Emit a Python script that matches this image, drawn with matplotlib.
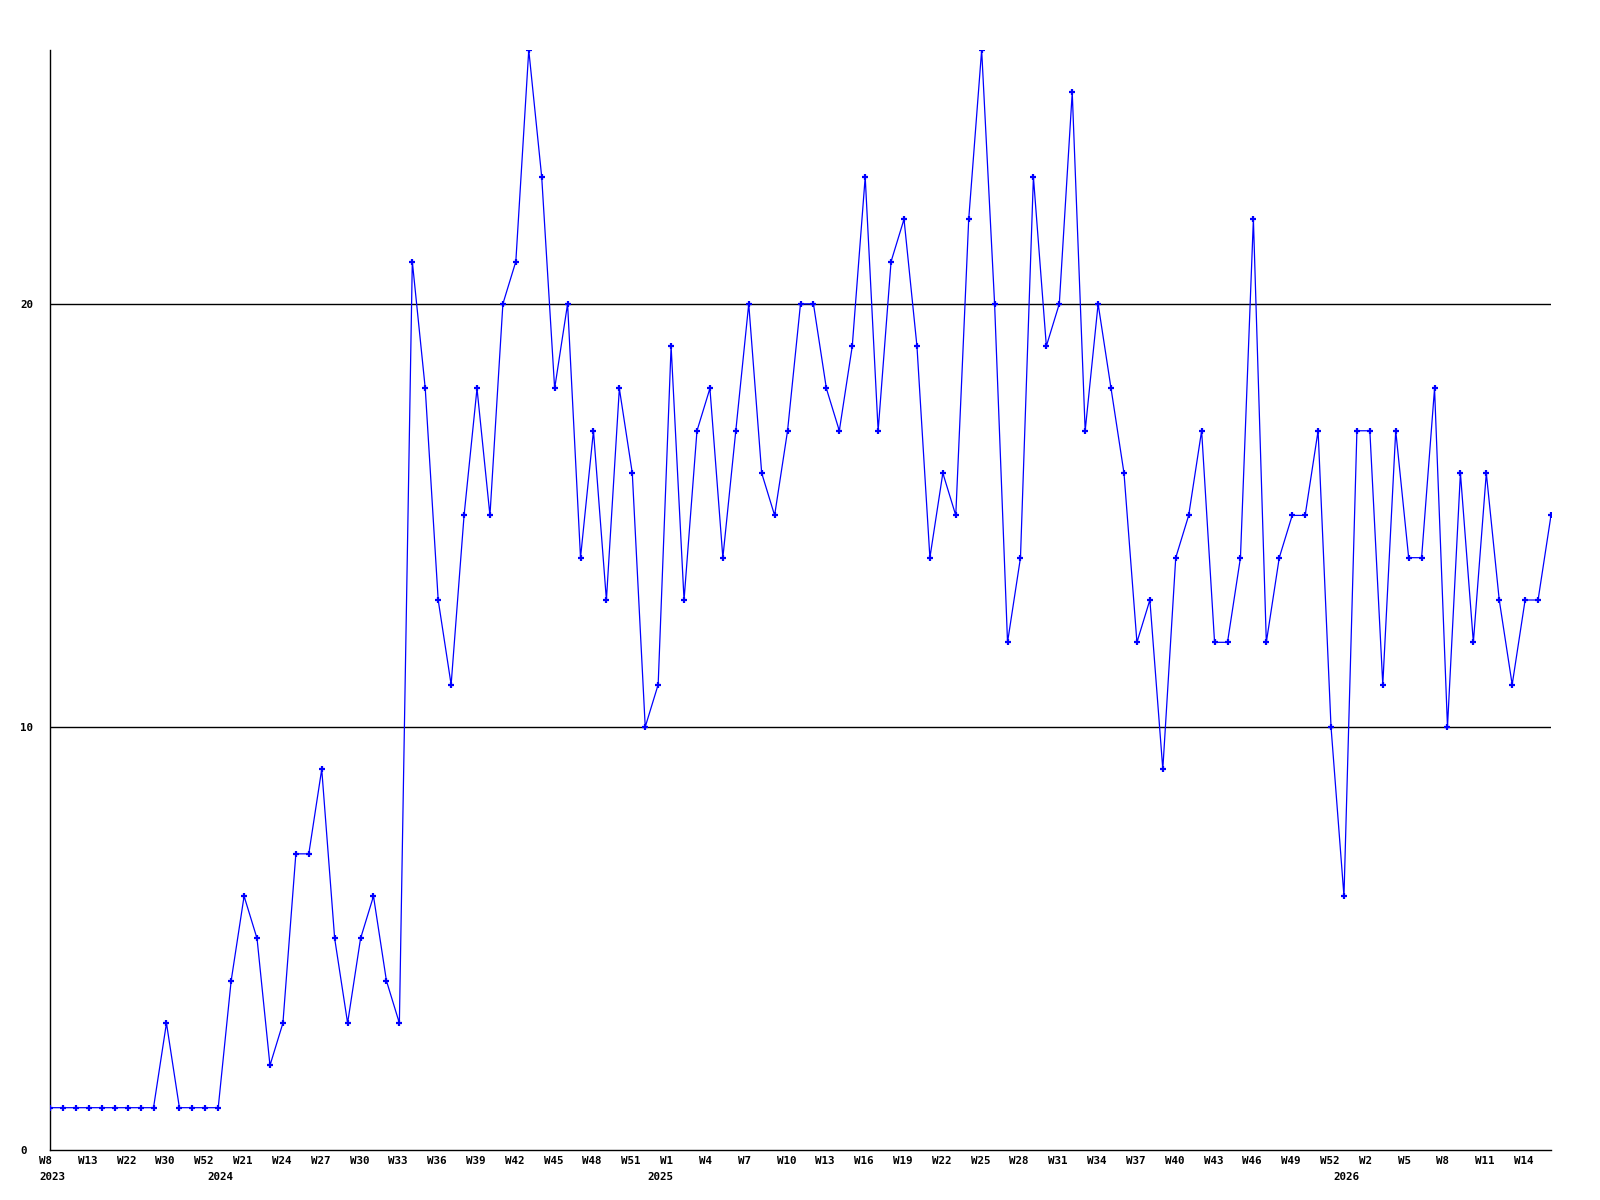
import matplotlib
matplotlib.use("Agg")
import matplotlib.pyplot as plt
import matplotlib.transforms as mtransforms

# weekly counts, one entry per week that has data
counts = [1, 1, 1, 1, 1, 1, 1, 1, 1, 3, 1, 1, 1, 1, 4, 6, 5, 2, 3, 7,
          7, 9, 5, 3, 5, 6, 4, 3, 21, 18, 13, 11, 15, 18, 15, 20, 21, 26, 23, 18,
          20, 14, 17, 13, 18, 16, 10, 11, 19, 13, 17, 18, 14, 17, 20, 16, 15, 17, 20, 20,
          18, 17, 19, 23, 17, 21, 22, 19, 14, 16, 15, 22, 26, 20, 12, 14, 23, 19, 20, 25,
          17, 20, 18, 16, 12, 13, 9, 14, 15, 17, 12, 12, 14, 22, 12, 14, 15, 15, 17, 10,
          6, 17, 17, 11, 17, 14, 14, 18, 10, 16, 12, 16, 13, 11, 13, 13, 15]

# every third week gets a label
week_labels = ["W8", "W13", "W22", "W30", "W52", "W21", "W24", "W27", "W30", "W33",
               "W36", "W39", "W42", "W45", "W48", "W51", "W1", "W4", "W7", "W10",
               "W13", "W16", "W19", "W22", "W25", "W28", "W31", "W34", "W37", "W40",
               "W43", "W46", "W49", "W52", "W2", "W5", "W8", "W11", "W14"]
years = ["2023", "2024", "2025", "2026"]
year_pos = [0, 13, 47, 100]
y_ticks = [0, 10, 20]

x = list(range(len(counts)))

fig = plt.figure(figsize=(16, 12), dpi=100)
ax = fig.add_axes([50 / 1600, 50 / 1200, 1501 / 1600, 1100 / 1200])

for yv in y_ticks[1:]:
    ax.axhline(yv, color="black", lw=1, zorder=1)

ax.plot(x, counts, color="#0000ff", lw=0.9, marker="+", markersize=4.5, mew=1.6, zorder=3)

ax.set_xlim(0, len(counts) - 1)
ax.set_ylim(0, max(counts))

for side in ["top", "right"]:
    ax.spines[side].set_visible(False)
for side in ["left", "bottom"]:
    ax.spines[side].set_color("black")
    ax.spines[side].set_linewidth(1)

font = dict(family="DejaVu Sans Mono", weight="bold", size=7.8)

# y labels sit left-aligned near the figure edge
ax.set_yticks(y_ticks)
ax.set_yticklabels([str(v) for v in y_ticks], ha="left", **font)
ax.tick_params(axis="y", length=0, pad=21.6)

ax.set_xticks([])
row1 = mtransforms.offset_copy(ax.get_xaxis_transform(), fig=fig, x=-11, y=-11, units="dots")
row2 = mtransforms.offset_copy(ax.get_xaxis_transform(), fig=fig, x=-11, y=-27, units="dots")
for i, lab in zip(x[::3], week_labels):
    ax.text(i, 0, lab, transform=row1, ha="left", va="center", **font)
for i, lab in zip(year_pos, years):
    ax.text(i, 0, lab, transform=row2, ha="left", va="center", **font)

fig.savefig("out.png", dpi=100)
